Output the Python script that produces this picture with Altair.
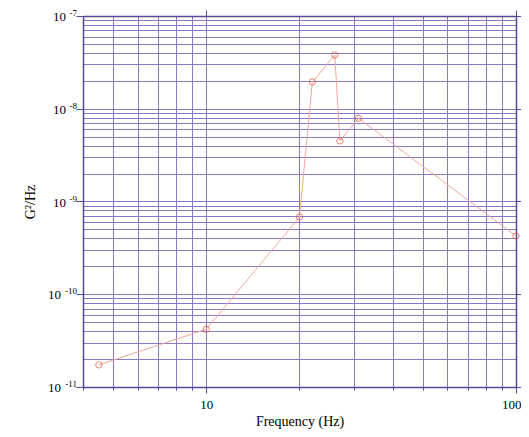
import altair as alt
import pandas as pd

freq = [4.5, 10, 20, 22, 26, 27, 31, 100]
psd = [1.73e-11, 4.2e-11, 6.8e-10, 1.94e-8, 3.8e-8, 4.5e-9, 7.9e-9, 4.25e-10]

x_ticks = [4, 5, 6, 7, 8, 9, 10, 20, 30, 40, 50, 60, 70, 80, 90, 100]
y_ticks = [m * 10.0 ** e for e in range(-11, -7) for m in range(1, 10)] + [1e-7]

dec_vals = [1e-7, 1e-8, 1e-9, 1e-10, 1e-11]
dec_exp = ["-7", "-8", "-9", "-10", "-11"]

df = pd.DataFrame({"f": freq, "g": psd})
dec = pd.DataFrame({"g": dec_vals, "e": dec_exp, "f": [4] * 5})
dec["long"] = dec["e"].str.len() > 2

GRID = "#8a78c4"
DOM = "#5a4696"
FONT = "Liberation Serif"

is_dec = "abs(log(datum.value)/LN10 - round(log(datum.value)/LN10)) < 0.001"
xlab = "(datum.value == 10 || datum.value == 100) ? ''+datum.value : ''"
x_major = "datum.value == 10 || datum.value == 100"

xs = alt.Scale(type="log", domain=[4, 100], nice=False)
ys = alt.Scale(type="log", domain=[1e-11, 1e-7], nice=False)

base = alt.Chart(df)

line = base.mark_line(color="#f2a898", strokeWidth=1).encode(
    x=alt.X("f:Q", scale=xs, title="Frequency (Hz)",
            axis=alt.Axis(values=x_ticks, labelExpr=xlab, grid=True, gridColor=GRID,
                          gridOpacity=1, gridWidth=1, domainColor=DOM, tickColor=DOM,
                          tickSize={"condition": {"test": x_major, "value": 6}, "value": 3},
                          labelFont=FONT, titleFont=FONT, labelFontSize=13,
                          titleFontSize=14, titleFontWeight="normal", labelColor="black",
                          titleColor="black", labelPadding=5, titlePadding=3,
                          labelFlush=True, labelFlushOffset=5, labelOverlap=False,
                          domainWidth=1.5)),
    y=alt.Y("g:Q", scale=ys, title="G²/Hz",
            axis=alt.Axis(values=y_ticks, labels=False, grid=True, gridColor=GRID,
                          gridOpacity=1, gridWidth=1, domainColor=DOM, tickColor=DOM,
                          tickSize={"condition": {"test": is_dec, "value": 7}, "value": 0},
                          titleFont=FONT, titleFontSize=14, titleFontWeight="normal",
                          titleColor="black", titlePadding=38,
                          domainWidth=1.5)),
)

pts = base.mark_point(shape="circle", size=40, filled=False, color="#e0523a",
                      strokeWidth=1).encode(
    x=alt.X("f:Q", scale=xs,
            axis=alt.Axis(orient="top", values=x_ticks, labels=False, title=None,
                          grid=False, domainColor=DOM, tickColor=DOM,
                          tickSize={"condition": {"test": x_major, "value": 6}, "value": 0},
                          domainWidth=1.5)),
    y=alt.Y("g:Q", scale=ys,
            axis=alt.Axis(orient="right", values=y_ticks, labels=False, title=None,
                          grid=False, domainColor=DOM, tickColor=DOM,
                          tickSize={"condition": {"test": is_dec, "value": 7}, "value": 0},
                          domainWidth=1.5)),
)

dbase = alt.Chart(dec).encode(
    x=alt.X("f:Q", scale=xs, axis=None),
    y=alt.Y("g:Q", scale=ys, axis=None),
)
ten_short = dbase.transform_filter("!datum.long").mark_text(
    text="10", align="right", baseline="middle", dx=-17, dy=1, font=FONT, fontSize=13, color="black")
ten_long = dbase.transform_filter("datum.long").mark_text(
    text="10", align="right", baseline="middle", dx=-22, dy=1, font=FONT, fontSize=13, color="black")
exps = dbase.mark_text(align="right", baseline="middle", dx=-6, dy=-3, font=FONT,
                       fontSize=9, color="black").encode(text="e:N")

chart = alt.layer(line, pts, ten_short, ten_long, exps).resolve_axis(
    x="independent", y="independent").properties(
    width=433, height=371,
    autosize=alt.AutoSizeParams(type="none"),
    padding={"left": 75, "top": 8, "right": 5, "bottom": 42},
).configure_view(stroke=None)

chart.save("out.html", embed_options={"renderer": "svg", "actions": False})
